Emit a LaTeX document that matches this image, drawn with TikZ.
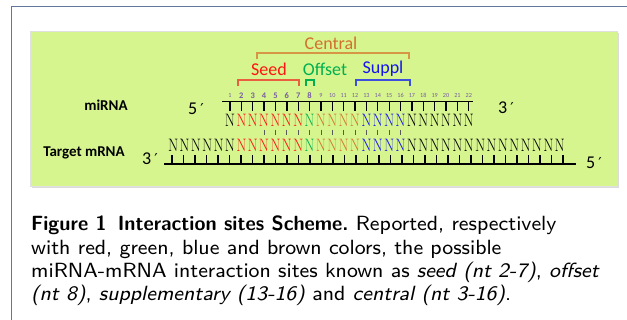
\documentclass[tikz,border=0pt]{standalone}
\usepackage{fontspec}
\newfontfamily\carlito{Carlito}
\newfontfamily\dejavu{DejaVu Sans}
\definecolor{boxgreen}{RGB}{214,245,143}
\definecolor{framec}{RGB}{95,120,155}
\definecolor{cred}{RGB}{255,20,20}
\definecolor{cgreen}{RGB}{0,176,80}
\definecolor{corange}{RGB}{210,120,45}
\definecolor{cblue}{RGB}{20,20,240}
\definecolor{numc}{RGB}{120,90,160}
\definecolor{centralc}{RGB}{215,150,70}
\definecolor{centralt}{RGB}{210,112,45}
\definecolor{seedbr}{RGB}{235,95,65}
\definecolor{supbr}{RGB}{60,80,220}
\newcommand\nuc{\scalebox{0.82}[1]{N}}
\tikzset{
  nt/.style={font=\fontsize{18}{18}\selectfont, inner sep=0pt},
  rulerline/.style={line width=1.6pt, black},
  rulertick/.style={line width=1.3pt, black},
  pairtick/.style={line width=0.9pt, black!65, shorten <=10pt, shorten >=10pt},
  bracketline/.style={line width=1.3pt},
  sitelabel/.style={font=\carlito\fontsize{18}{18}\selectfont, inner sep=0pt},
  rowlabel/.style={font=\carlito\bfseries\fontsize{15}{15}\selectfont, inner sep=0pt},
  endlabel/.style={font=\carlito\fontsize{18}{18}\selectfont, inner sep=0pt},
}
\begin{document}
\begin{tikzpicture}[x=1pt,y=-1pt]
\useasboundingbox (0,0) rectangle (627,320);
% page frame
\draw[framec, line width=1pt] (11,320) -- (11,7) -- (627,7);
% green panel
\fill[black!14] (32,33) rectangle (619,188);
\filldraw[fill=boxgreen, draw=black!12, line width=0.6pt] (30,31) rectangle (617,186);

% brackets
\draw[bracketline, centralc] (257,59) -- (257,53) -- (409,53) -- (409,59);
\draw[bracketline, seedbr] (238,86) -- (238,80) -- (299,80) -- (299,86);
\draw[bracketline, cgreen] (306,86) -- (306,80) -- (314,80) -- (314,86);
\draw[bracketline, supbr] (356,86) -- (356,80) -- (410,80) -- (410,86);
\node[sitelabel, text=centralt] (central) at (331,43) {Central};
\node[sitelabel, text=cred] (seed) at (269,69) {Seed};
\node[sitelabel, text=cgreen] (offset) at (325,69) {Offset};
\node[sitelabel, text=cblue] (suppl) at (383,69) {Suppl};

% miRNA ruler
\draw[rulerline] (222,101.7) -- (473,101.7);
\foreach \i in {1,...,22}{
  \pgfmathsetmacro\xx{230+(\i-1)*11.37}
  \def\nf{\fontsize{6.2}{7}\selectfont}
  \ifnum\i>1 \ifnum\i<9 \def\nf{\bfseries\fontsize{8.5}{9}\selectfont}\fi\fi
  \node[font=\carlito\nf, text=numc, inner sep=0pt] (num\i) at (\xx,95.5) {\i};
  \draw[rulertick] (\xx,101.7) -- (\xx,110.7);
  \def\cc{black}
  \ifnum\i>1 \ifnum\i<8 \def\cc{cred}\fi\fi
  \ifnum\i=8 \def\cc{cgreen}\fi
  \ifnum\i>8 \ifnum\i<13 \def\cc{corange}\fi\fi
  \ifnum\i>12 \ifnum\i<17 \def\cc{cblue}\fi\fi
  \node[nt, text=\cc] (m\i) at (\xx,120) {\nuc};
}

% target row
\foreach \j in {1,...,35}{
  \pgfmathtruncatemacro\k{\j-5}
  \pgfmathsetmacro\xx{230+(\k-1)*11.37}
  \def\cc{black}
  \ifnum\k>1 \ifnum\k<8 \def\cc{cred}\fi\fi
  \ifnum\k=8 \def\cc{cgreen}\fi
  \ifnum\k>8 \ifnum\k<13 \def\cc{corange}\fi\fi
  \ifnum\k>12 \ifnum\k<17 \def\cc{cblue}\fi\fi
  \node[nt, text=\cc] (t\j) at (\xx,145) {\nuc};
  \pgfmathsetmacro\tx{172+(\j-1)*11.5}
  \draw[rulertick] (\tx,164.3) -- (\tx,155);
}
\draw[rulerline] (164,164.3) -- (576,164.3);

% pairing ticks
\foreach \i in {4,...,16}{
  \pgfmathtruncatemacro\j{\i+5}
  \draw[pairtick] (m\i.center) -- (t\j.center);
}

% row labels
\node[rowlabel] (mirna) at (106,105) {miRNA};
\node[rowlabel] (target) at (84,153) {Target mRNA};
\node[endlabel] (m5) at (196,109) {5\,{\dejavu\fontsize{15}{15}\selectfont ′}};
\node[endlabel] (m3) at (506,108) {3\,{\dejavu\fontsize{15}{15}\selectfont ′}};
\node[endlabel] (t3) at (150,159) {3\,{\dejavu\fontsize{15}{15}\selectfont ′}};
\node[endlabel] (t5) at (594,162.5) {5\,{\dejavu\fontsize{15}{15}\selectfont ′}};

% caption
\node[anchor=base west, inner sep=0pt] (caption) at (31,231)
{\scalebox{2.57}{\sffamily\fontsize{8}{8.95}\selectfont
\begin{tabular}[t]{@{}l@{}}
\scalebox{0.97}[1]{\textbf{Figure 1}\hspace{4.5pt}\textbf{Interaction sites Scheme.}} Reported, respectively\\
with red, green, blue and brown colors, the possible\\
miRNA-mRNA interaction sites known as \textit{seed (nt 2-7)}, \textit{offset}\\
\textit{(nt 8)}, \textit{supplementary (13-16)} and \textit{central (nt 3-16)}.
\end{tabular}}};
\end{tikzpicture}
\end{document}
